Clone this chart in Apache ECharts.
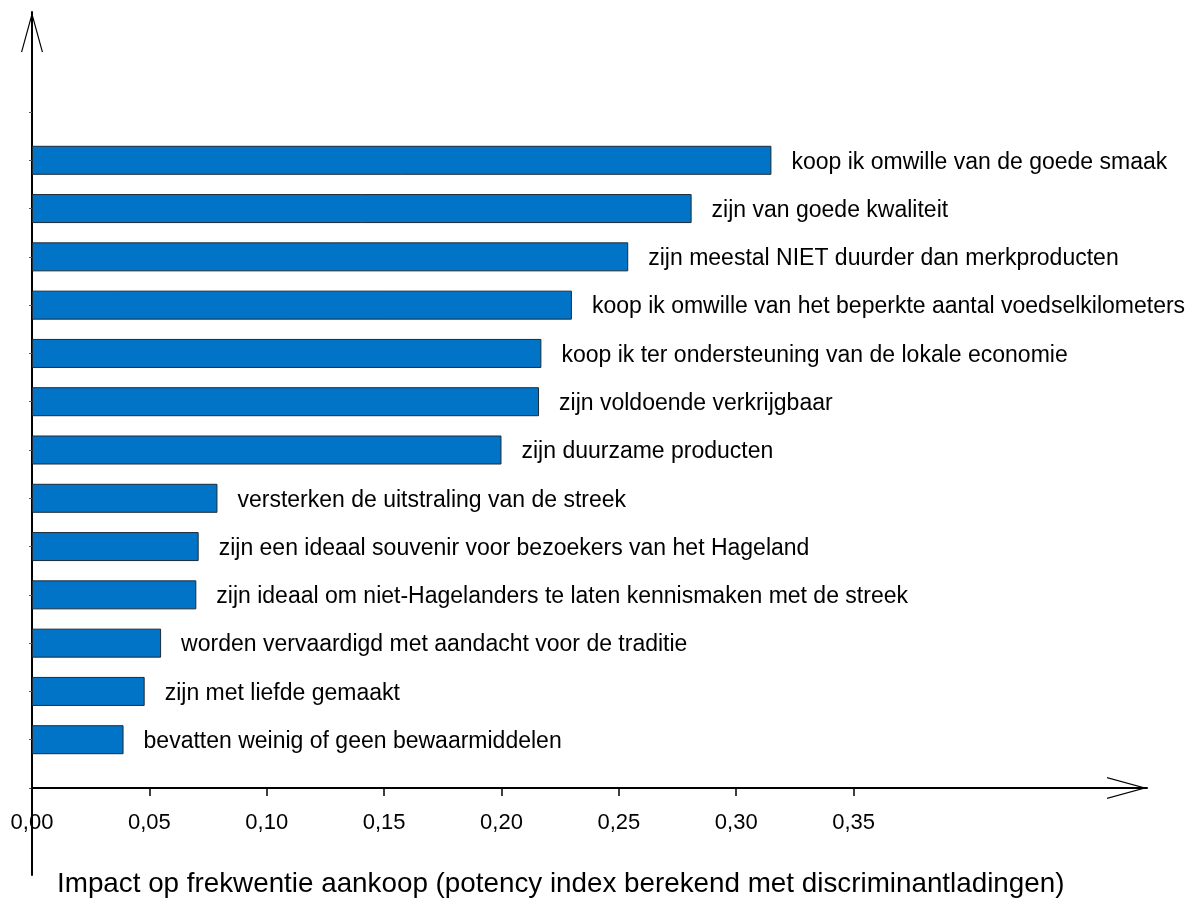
<!DOCTYPE html>
<html>
<head>
<meta charset="utf-8">
<script src="https://cdn.jsdelivr.net/npm/echarts@6/dist/echarts.min.js"></script>
<style>html,body{margin:0;padding:0;background:#fff;}#chart{width:1202px;height:898px;}</style>
</head>
<body>
<div id="chart"></div>
<script>
// Categories, top to bottom
var categories = [
  'koop ik omwille van de goede smaak',
  'zijn van goede kwaliteit',
  'zijn meestal NIET duurder dan merkproducten',
  'koop ik omwille van het beperkte aantal voedselkilometers',
  'koop ik ter ondersteuning van de lokale economie',
  'zijn voldoende verkrijgbaar',
  'zijn duurzame producten',
  'versterken de uitstraling van de streek',
  'zijn een ideaal souvenir voor bezoekers van het Hageland',
  'zijn ideaal om niet-Hagelanders te laten kennismaken met de streek',
  'worden vervaardigd met aandacht voor de traditie',
  'zijn met liefde gemaakt',
  'bevatten weinig of geen bewaarmiddelen'
];
var values = [0.315, 0.281, 0.254, 0.230, 0.217, 0.216, 0.200, 0.079, 0.071, 0.070, 0.055, 0.048, 0.039];
var tickValues = [0, 0.05, 0.10, 0.15, 0.20, 0.25, 0.30, 0.35];
var axisTitle = 'Impact op frekwentie aankoop (potency index berekend met discriminantladingen)';

var FONT = '"Liberation Sans", Arial, sans-serif';
var openArrow = 'path://M11 0 L22 40 L20.8 40 L11 4.4 L1.2 40 L0 40 Z';

var yCats = [''].concat(categories).concat(['']);
var barData = [null].concat(values).concat([null]);

var chart = echarts.init(document.getElementById('chart'), null, {renderer: 'canvas'});
chart.setOption({
  animation: false,
  backgroundColor: '#ffffff',
  title: {
    text: axisTitle,
    left: 52,
    top: 865,
    textStyle: {fontFamily: FONT, fontSize: 27.8, fontWeight: 'normal', color: '#000'}
  },
  grid: [
    {left: 32, right: 55, top: 112, bottom: 110, containLabel: false},
    {left: 32, right: 55, top: 12, bottom: 23, containLabel: false}
  ],
  xAxis: [
    {
      type: 'value', gridIndex: 0, min: 0, max: 0.475,
      axisLine: {show: true, lineStyle: {color: '#000', width: 2},
        symbol: ['none', openArrow], symbolSize: [22, 41], symbolOffset: [0, -20]},
      axisTick: {show: true, length: 8, inside: false, customValues: tickValues,
        lineStyle: {color: '#000', width: 1.5}},
      axisLabel: {show: true, customValues: tickValues, margin: 24,
        fontFamily: FONT, fontSize: 22, color: '#000',
        formatter: function (v) { return v.toFixed(2).replace('.', ','); }},
      splitLine: {show: false}
    },
    {type: 'value', gridIndex: 1, min: 0, max: 1, show: false}
  ],
  yAxis: [
    {
      type: 'category', gridIndex: 0, data: yCats, inverse: true, boundaryGap: false,
      axisLine: {show: false},
      axisTick: {show: true, length: 3, inside: false, interval: 0, lineStyle: {color: '#555', width: 1}},
      axisLabel: {show: false},
      splitLine: {show: false}
    },
    {
      type: 'value', gridIndex: 1, min: 0, max: 1,
      axisLine: {show: true, lineStyle: {color: '#000', width: 2},
        symbol: ['none', openArrow], symbolSize: [22, 41], symbolOffset: [0, -20]},
      axisTick: {show: false}, axisLabel: {show: false}, splitLine: {show: false}
    }
  ],
  series: [{
    type: 'bar',
    xAxisIndex: 0, yAxisIndex: 0,
    data: barData,
    barWidth: 29,
    itemStyle: {color: '#0274C8', borderColor: '#1b2a36', borderWidth: 1},
    label: {
      show: true, position: 'right', distance: 20,
      fontFamily: FONT, fontSize: 23, color: '#000',
      offset: [0, 2],
      formatter: function (p) { return yCats[p.dataIndex]; }
    }
  }]
});
</script>
</body>
</html>
